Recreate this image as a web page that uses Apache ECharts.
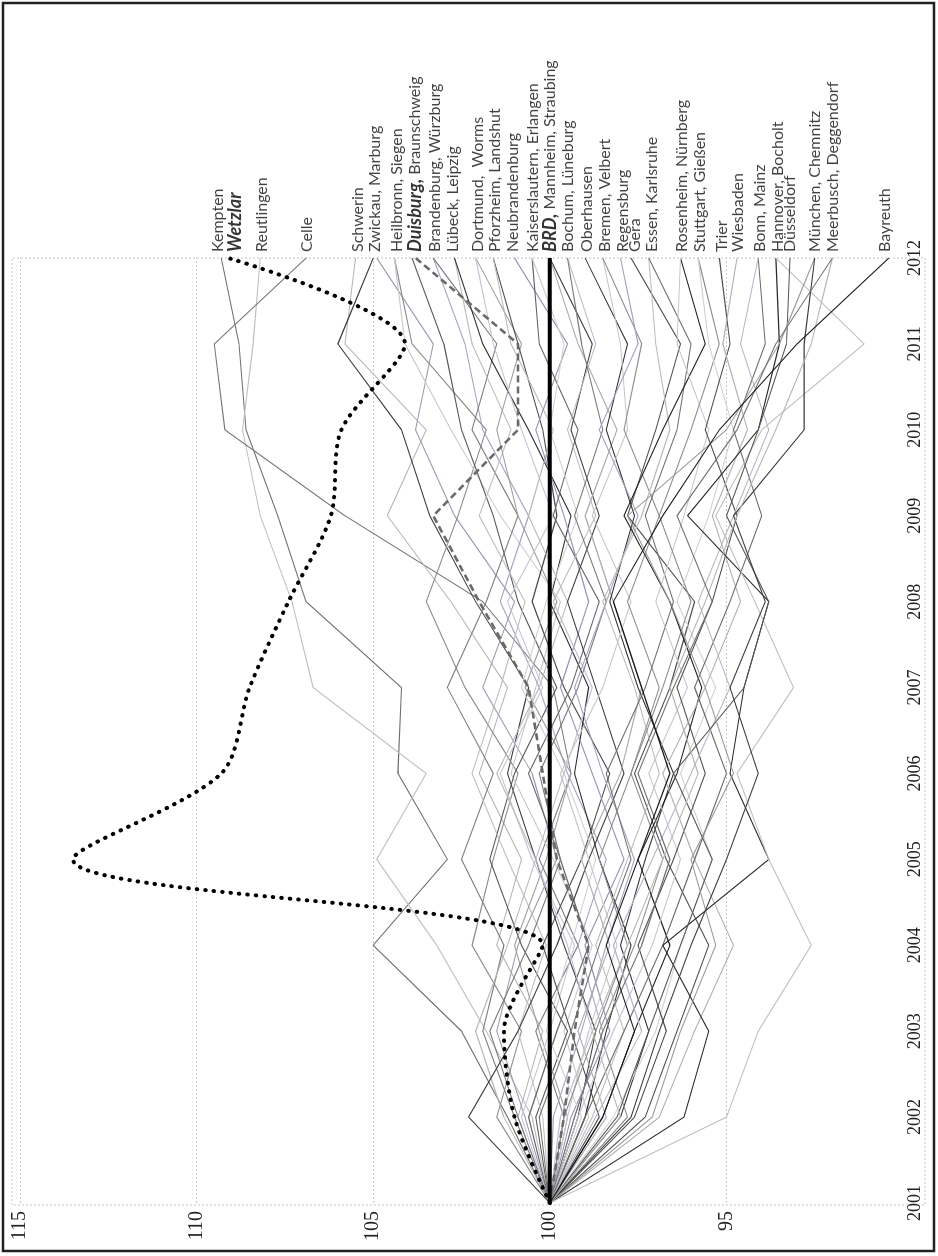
<!DOCTYPE html>
<html>
<head>
<meta charset="utf-8">
<script src="https://cdn.jsdelivr.net/npm/echarts@6/dist/echarts.min.js"></script>
<style>
  html, body { margin: 0; padding: 0; background: #fff; width: 938px; height: 1256px; overflow: hidden; }
  /* the chart is laid out landscape and turned a quarter turn counter-clockwise */
  #chart { position: absolute; left: 0; top: 0; width: 1256px; height: 938px;
           transform-origin: 0 0; transform: translateY(1256px) rotate(-90deg); }
</style>
</head>
<body>
<div id="chart"></div>
<script>
// Index 2001 = 100
const years = [2001, 2002, 2003, 2004, 2005, 2006, 2007, 2008, 2009, 2010, 2011, 2012];

const kempten        = [100, 101.2, 102.5, 105.0, 102.9, 104.3, 104.2, 106.9, 107.7, 108.6, 108.8, 109.3];
const wetzlar        = [100, 101.0, 101.3, 100.2, 113.5, 109.3, 108.5, 107.4, 106.2, 105.9, 104.1, 109.1];
const reutlingen     = [100, 100.5, 101.8, 103.2, 104.9, 103.5, 106.7, 107.3, 108.2, 108.7, 108.4, 108.2];
const celle          = [100, 99.6, 100.4, 99.2, 100.3, 99.4, 99.9, 101.9, 105.8, 109.2, 109.5, 106.9];
const schwerin       = [100, 100.9, 100.2, 101.5, 100.8, 102.0, 101.2, 102.8, 104.6, 103.5, 105.8, 105.5];
const zwickau        = [100, 99.2, 98.7, 99.6, 100.4, 101.2, 100.6, 102.1, 103.4, 104.2, 106.0, 105.0];
const marburg        = [100, 100.7, 101.5, 100.9, 99.8, 100.5, 101.9, 101.0, 102.7, 103.8, 103.3, 104.9];
const heilbronn      = [100, 101.5, 100.8, 102.2, 101.6, 100.9, 102.4, 103.5, 102.6, 101.8, 103.9, 104.4];
const siegen         = [100, 98.9, 99.6, 98.8, 99.9, 101.1, 100.4, 99.7, 101.4, 102.8, 104.1, 104.4];
const duisburg       = [100, 99.6, 99.3, 98.9, 99.8, 100.2, 100.6, 102.0, 103.3, 100.9, 100.9, 103.8];
const braunschweig   = [100, 100.4, 99.5, 100.8, 101.7, 101.0, 99.8, 100.9, 101.6, 102.5, 103.0, 103.9];
const brandenburg    = [100, 99.3, 98.5, 99.2, 98.4, 99.5, 100.3, 101.4, 100.6, 101.9, 102.4, 103.3];
const wuerzburg      = [100, 101.0, 101.9, 101.3, 102.5, 101.6, 102.9, 101.8, 100.9, 102.2, 101.5, 103.3];
const luebeck        = [100, 100.2, 100.9, 100.1, 101.2, 102.2, 101.4, 100.7, 102.0, 101.1, 102.2, 102.7];
const leipzig        = [100, 99.0, 98.4, 97.7, 98.6, 99.3, 98.9, 100.0, 99.4, 100.6, 101.9, 102.7];
const dortmund       = [100, 99.5, 100.3, 101.0, 100.1, 99.4, 100.7, 99.8, 100.9, 101.5, 100.8, 102.1];
const worms          = [100, 100.8, 100.0, 99.3, 100.5, 101.4, 100.2, 101.2, 99.9, 100.8, 101.6, 102.1];
const pforzheim      = [100, 98.6, 99.4, 100.2, 99.1, 98.3, 99.6, 100.5, 99.8, 100.2, 100.9, 101.6];
const landshut       = [100, 101.3, 102.1, 101.2, 100.4, 101.5, 100.3, 99.5, 100.6, 99.9, 101.1, 101.6];
const neubrandenburg = [100, 99.4, 98.3, 99.0, 97.9, 98.8, 99.7, 98.9, 99.6, 100.4, 99.5, 101.0];
const kaiserslautern = [100, 100.6, 99.8, 98.9, 99.7, 100.6, 99.4, 98.6, 99.9, 99.2, 100.3, 100.5];
const erlangen       = [100, 99.1, 100.1, 99.4, 98.7, 99.6, 100.8, 100.1, 99.2, 100.0, 99.6, 100.5];
const brd            = [100, 100, 100, 100, 100, 100, 100, 100, 100, 100, 100, 100];
const mannheim       = [100, 102.3, 100.9, 99.8, 98.9, 97.9, 98.7, 99.5, 98.6, 99.4, 98.8, 100.0];
const straubing      = [100, 98.4, 99.2, 98.3, 99.1, 98.0, 97.4, 98.2, 99.0, 98.1, 99.2, 100.0];
const bochum         = [100, 99.7, 98.8, 99.5, 100.4, 99.6, 98.8, 99.9, 98.7, 99.5, 98.7, 99.5];
const lueneburg      = [100, 100.9, 101.7, 100.6, 99.7, 100.3, 99.2, 98.4, 99.3, 98.5, 99.1, 99.5];
const oberhausen     = [100, 98.0, 97.2, 98.0, 97.3, 96.5, 97.5, 98.3, 97.6, 98.4, 97.8, 99.0];
const bremen         = [100, 99.5, 98.9, 98.1, 98.9, 99.7, 98.5, 97.7, 98.8, 97.8, 98.0, 98.5];
const velbert        = [100, 97.8, 98.6, 97.6, 96.8, 97.7, 96.9, 97.8, 96.9, 97.9, 97.4, 98.5];
const regensburg     = [100, 99.9, 99.1, 98.4, 97.6, 98.5, 99.3, 98.4, 97.5, 98.6, 97.5, 98.0];
const gera           = [100, 97.3, 96.4, 95.5, 96.7, 97.6, 96.6, 95.9, 97.8, 97.0, 96.3, 97.7];
const essen          = [100, 98.8, 97.9, 98.7, 97.8, 96.9, 97.6, 98.5, 97.4, 96.6, 97.0, 97.2];
const karlsruhe      = [100, 100.3, 99.4, 98.6, 97.7, 98.4, 97.3, 96.5, 97.3, 96.4, 96.0, 97.2];
const rosenheim      = [100, 98.5, 97.6, 96.6, 97.5, 96.4, 95.7, 96.6, 97.9, 96.8, 95.6, 96.3];
const nuernberg      = [100, 99.2, 98.2, 97.1, 96.3, 97.2, 96.1, 97.0, 96.2, 95.5, 96.4, 96.3];
const stuttgart      = [100, 99.6, 98.7, 97.8, 98.6, 97.7, 96.8, 96.0, 96.9, 96.0, 95.2, 95.8];
const giessen        = [100, 98.2, 97.0, 96.3, 95.4, 96.3, 95.3, 96.4, 95.5, 94.8, 95.5, 95.8];
const trier          = [100, 97.6, 96.7, 97.5, 96.5, 95.6, 96.4, 95.4, 94.7, 95.6, 94.9, 95.2];
const wiesbaden      = [100, 96.9, 95.9, 94.8, 95.9, 96.8, 95.6, 94.6, 95.4, 94.4, 95.1, 94.7];
const bonn           = [100, 99.0, 97.9, 96.8, 95.9, 95.0, 95.9, 94.9, 94.0, 94.8, 93.9, 94.1];
const mainz          = [100, 98.7, 97.4, 98.2, 97.1, 96.0, 94.9, 95.8, 94.8, 93.8, 94.6, 94.1];
const hannover       = [100, 96.2, 95.5, 96.8, 93.8, 94.9, 94.5, 93.8, 96.1, 94.1, 93.5, 93.6];
const bocholt        = [100, 95.0, 94.1, 92.6, 93.8, 94.7, 93.1, 94.2, 95.3, 94.0, 91.1, 93.6];
const duesseldorf    = [100, 98.1, 97.2, 96.3, 95.4, 96.5, 94.5, 93.8, 95.0, 94.1, 93.3, 93.2];
const muenchen       = [100, 97.1, 96.3, 95.3, 96.0, 94.8, 95.6, 96.6, 97.8, 95.0, 93.5, 92.5];
const chemnitz       = [100, 97.7, 96.9, 96.0, 95.0, 94.1, 94.9, 93.9, 94.8, 92.8, 92.8, 92.5];
const meerbusch      = [100, 98.0, 98.8, 97.8, 96.8, 95.8, 96.6, 95.6, 94.7, 93.6, 92.6, 92.0];
const deggendorf     = [100, 99.3, 98.5, 97.4, 96.6, 97.5, 96.5, 95.4, 96.4, 94.7, 93.6, 92.0];
const bayreuth       = [100, 98.5, 97.6, 98.4, 97.5, 96.6, 97.4, 98.2, 96.8, 95.2, 93.0, 90.4];

// thin city lines, drawn in shades of grey
const cityNames = ['Kempten','Reutlingen','Celle','Schwerin','Zwickau','Marburg','Heilbronn','Siegen',
  'Braunschweig','Brandenburg','Würzburg','Lübeck','Leipzig','Dortmund','Worms','Pforzheim','Landshut',
  'Neubrandenburg','Kaiserslautern','Erlangen','Mannheim','Straubing','Bochum','Lüneburg','Oberhausen',
  'Bremen','Velbert','Regensburg','Gera','Essen','Karlsruhe','Rosenheim','Nürnberg','Stuttgart','Gießen',
  'Trier','Wiesbaden','Bonn','Mainz','Hannover','Bocholt','Düsseldorf','München','Chemnitz','Meerbusch',
  'Deggendorf','Bayreuth'];
const cityValues = [kempten, reutlingen, celle, schwerin, zwickau, marburg, heilbronn, siegen,
  braunschweig, brandenburg, wuerzburg, luebeck, leipzig, dortmund, worms, pforzheim, landshut,
  neubrandenburg, kaiserslautern, erlangen, mannheim, straubing, bochum, lueneburg, oberhausen,
  bremen, velbert, regensburg, gera, essen, karlsruhe, rosenheim, nuernberg, stuttgart, giessen,
  trier, wiesbaden, bonn, mainz, hannover, bocholt, duesseldorf, muenchen, chemnitz, meerbusch,
  deggendorf, bayreuth];
const cityColors = ['#6e6e6e','#c0c0c0','#7a7a7a','#b5b5b5','#3a3a3a','#9a9ab0','#8a8a8a','#c9c9c9',
  '#555555','#a0a4bc','#7a7a7a','#bdbdbd','#2b2b2b','#9c9c9c','#c2c5d6','#4a4a4a','#b8b8b8',
  '#8f93ab','#666666','#cfcfcf','#3c3c3c','#a9a9a9','#b9bccd','#777777','#2e2e2e',
  '#c6c6c6','#8d8d8d','#9fa3b9','#505050','#bbbbbb','#707070','#1f1f1f','#c3c6d6','#8a8a8a','#d0d0d0',
  '#4d4d4d','#b0b0b0','#6a6a6a','#b4b7ca','#2a2a2a','#c0c0c0','#555555','#999999','#3a3a3a','#b6b6b6',
  '#707070','#1a1a1a'];

// end labels: text lines and the index level each line sits at
const labelLines = ['Kempten','{bi|Wetzlar}','Reutlingen','Celle','Schwerin','Zwickau, Marburg',
  'Heilbronn, Siegen','{bi|Duisburg,} Braunschweig','Brandenburg, Würzburg','Lübeck, Leipzig',
  'Dortmund,  Worms','Pforzheim, Landshut','Neubrandenburg','Kaiserslautern, Erlangen',
  '{bi|BRD,} Mannheim, Straubing','Bochum, Lüneburg','Oberhausen','Bremen, Velbert','Regensburg','Gera',
  'Essen, Karlsruhe','Rosenheim, Nürnberg','Stuttgart, Gießen','Trier','Wiesbaden','Bonn, Mainz',
  'Hannover, Bocholt','Düsseldorf','München, Chemnitz','Meerbusch, Deggendorf','Bayreuth'];
const labelLevels = [109.40, 108.92, 108.15, 106.88, 105.43, 104.95, 104.33, 103.82, 103.25, 102.75,
  102.04, 101.56, 101.05, 100.48, 100.0, 99.49, 98.95, 98.44, 97.93, 97.59, 97.11, 96.26, 95.75,
  95.13, 94.68, 94.06, 93.55, 93.21, 92.50, 91.99, 90.52];

const toPoints = arr => arr.map((v, i) => [years[i], v]);

const series = cityNames.map((name, i) => ({
  name, type: 'line', data: toPoints(cityValues[i]), symbol: 'none', silent: true, z: 2,
  lineStyle: { color: cityColors[i], width: 1.1 }
}));

series.push({
  name: 'Duisburg', type: 'line', data: toPoints(duisburg), symbol: 'none', silent: true, z: 3,
  lineStyle: { color: '#6a6a6a', width: 2.6, type: [7, 4] }
});
series.push({
  name: 'BRD', type: 'line', data: toPoints(brd), symbol: 'none', silent: true, z: 4,
  lineStyle: { color: '#000', width: 4 }
});
series.push({
  name: 'Wetzlar', type: 'line', data: toPoints(wetzlar), symbol: 'none', silent: true, z: 5,
  smooth: 0.3,
  lineStyle: { color: '#000', width: 4, type: [0.5, 8], cap: 'round' }
});
series.push({
  name: 'labels', type: 'scatter', silent: true, z: 6, clip: false, symbolSize: 0,
  data: labelLevels.map(v => [years[years.length - 1], v]),
  label: {
    show: true, position: 'right', distance: 6,
    formatter: p => labelLines[p.dataIndex],
    fontFamily: 'Lato', fontSize: 16, color: '#111',
    rich: { bi: { fontFamily: 'Lato', fontSize: 18, fontWeight: 'bold', fontStyle: 'italic', color: '#000' } }
  }
});

const chart = echarts.init(document.getElementById('chart'), null, { renderer: 'canvas', width: 1256, height: 938 });
chart.setOption({
  animation: false,
  backgroundColor: '#fff',
  grid: { left: 53, right: 258, top: 20, bottom: 35, containLabel: false },
  xAxis: {
    type: 'value', min: 2001, max: 2012, interval: 1,
    axisLine: { show: false }, axisTick: { show: false }, splitLine: { show: false },
    axisLabel: { margin: 3, fontFamily: 'Liberation Serif', fontSize: 18, color: '#222',
                 formatter: v => String(v) }
  },
  yAxis: {
    type: 'value', min: 90, max: 115, interval: 5,
    axisLine: { show: false }, axisTick: { show: false },
    splitLine: { show: true, showMinLine: false, lineStyle: { color: '#c8c8c8', type: [2, 2], width: 1 } },
    axisLabel: { showMinLabel: false, margin: 8, fontFamily: 'Liberation Serif', fontSize: 20, color: '#222' }
  },
  graphic: [
    { type: 'rect', silent: true, z: 0,
      shape: { x: 51, y: 12, width: 947, height: 913 },
      style: { fill: 'none', stroke: '#c4c4c4', lineWidth: 1, lineDash: [2, 2] } },
    { type: 'rect', silent: true, z: 0,
      shape: { x: 5, y: 3, width: 1248, height: 931 },
      style: { fill: 'none', stroke: '#222', lineWidth: 2.5 } }
  ],
  series
});
</script>
</body>
</html>
